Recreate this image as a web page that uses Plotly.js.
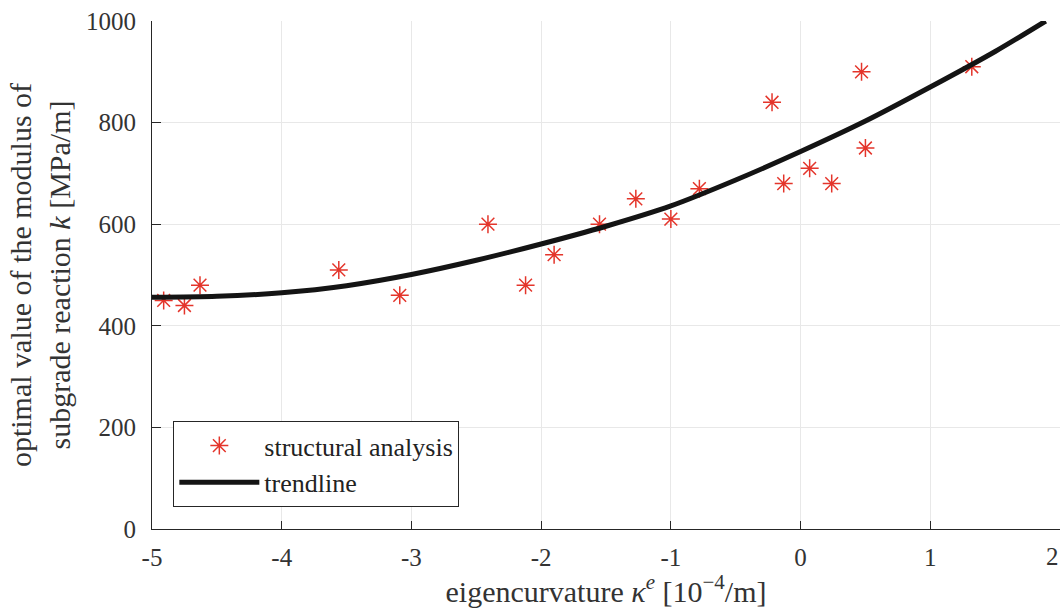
<!DOCTYPE html>
<html>
<head>
<meta charset="utf-8">
<script src="https://cdn.plot.ly/plotly-3.0.1.min.js"></script>
<style>
  html, body { margin: 0; padding: 0; background: #ffffff; }
  #chart { width: 1061px; height: 608px; }
  #chart svg text { font-family: "Liberation Serif", "Times New Roman", serif !important; }
</style>
</head>
<body>
<div id="chart"></div>
<script>
// Structural analysis results (eigencurvature [1e-4/m], optimal k [MPa/m])
const analysisX = [-4.91, -4.75, -4.63, -3.56, -3.09, -2.41, -2.12, -1.90, -1.55, -1.27, -1.00, -0.78, -0.22, -0.13, 0.07, 0.24, 0.47, 0.50, 1.32];
const analysisY = [450, 440, 480, 510, 460, 600, 480, 540, 600, 650, 610, 670, 840, 680, 710, 680, 900, 750, 910];

// Trendline
const trendX = [-5, -4.5, -4, -3.5, -3, -2.5, -2, -1.5, -1, -0.5, 0, 0.5, 1, 1.5, 1.89];
const trendY = [456, 458, 465, 479, 501, 529, 561, 596, 636, 687, 743, 803, 870, 940, 1000];

// Tick labels
const xTickVals = [-5, -4, -3, -2, -1, 0, 1, 2];
const xTickText = ['-5', '-4', '-3', '-2', '-1', '0', '1', ' '];
const xLastTick = '2';
const yTickVals = [0, 200, 400, 600, 800, 1000];
const yTickText = ['0', '200', '400', '600', '800', '1000'];

const chartFont = 'Liberation Serif';
const textColor = '#333333';
const axisColor = '#262626';

const traces = [
  {
    x: analysisX, y: analysisY,
    type: 'scatter', mode: 'markers',
    name: 'structural analysis',
    marker: { symbol: 'asterisk-open', size: 15, color: '#e4352b', line: { color: '#e4352b', width: 1.5 } },
    cliponaxis: false
  },
  {
    x: trendX, y: trendY,
    type: 'scatter', mode: 'lines',
    name: 'trendline',
    line: { color: '#141414', width: 5, shape: 'spline', smoothing: 0.8 }
  }
];

const layout = {
  width: 1061, height: 608,
  margin: { l: 152, r: 1, t: 21, b: 79, pad: 0 },
  paper_bgcolor: '#ffffff', plot_bgcolor: '#ffffff',
  font: { family: chartFont, color: textColor, size: 25 },
  showlegend: true,
  legend: {
    x: 0.0235, y: 0.043, xanchor: 'left', yanchor: 'bottom',
    bgcolor: '#ffffff', bordercolor: axisColor, borderwidth: 1,
    font: { family: chartFont, size: 26, color: '#222222' },
    itemwidth: 80, tracegroupgap: 0
  },
  xaxis: {
    range: [-5, 2], autorange: false,
    tickmode: 'array', tickvals: xTickVals, ticktext: xTickText,
    ticks: 'inside', ticklen: 8, tickcolor: axisColor, tickwidth: 1,
    showline: true, linecolor: axisColor, linewidth: 1, mirror: false,
    showgrid: true, gridcolor: '#e8e8e8', gridwidth: 1,
    zeroline: false,
    tickfont: { family: chartFont, size: 25, color: textColor },
    ticklabelstandoff: 6,
    title: { text: 'eigencurvature <i>κ</i><sup><i>e</i></sup> [10<sup>−4</sup>/m]', font: { family: chartFont, size: 30, color: textColor }, standoff: 6 },
    automargin: false
  },
  yaxis: {
    range: [0, 1000], autorange: false,
    tickmode: 'array', tickvals: yTickVals, ticktext: yTickText,
    ticks: 'inside', ticklen: 9, tickcolor: axisColor, tickwidth: 1,
    showline: true, linecolor: axisColor, linewidth: 1, mirror: false,
    showgrid: true, gridcolor: '#e8e8e8', gridwidth: 1,
    zeroline: false,
    tickfont: { family: chartFont, size: 25, color: textColor },
    ticklabelstandoff: 10,
    title: { text: 'optimal value of the modulus of<br>subgrade reaction <i>k</i> [MPa/m]', font: { family: chartFont, size: 30, color: textColor }, standoff: 6 },
    automargin: false
  },
  annotations: [
    {
      x: 2, y: 0, xref: 'x', yref: 'y', text: xLastTick,
      showarrow: false, xanchor: 'right', yanchor: 'top',
      xshift: 1, yshift: -12,
      font: { family: chartFont, size: 25, color: textColor }
    }
  ]
};

function forceSerif() {
  document.querySelectorAll('#chart svg text, #chart svg tspan').forEach(function (t) {
    t.style.setProperty('font-family', '"Liberation Serif"', 'important');
  });
}

Plotly.newPlot('chart', traces, layout, { displayModeBar: false }).then(function (gd) {
  forceSerif();
  gd.on('plotly_afterplot', forceSerif);
});
</script>
</body>
</html>
